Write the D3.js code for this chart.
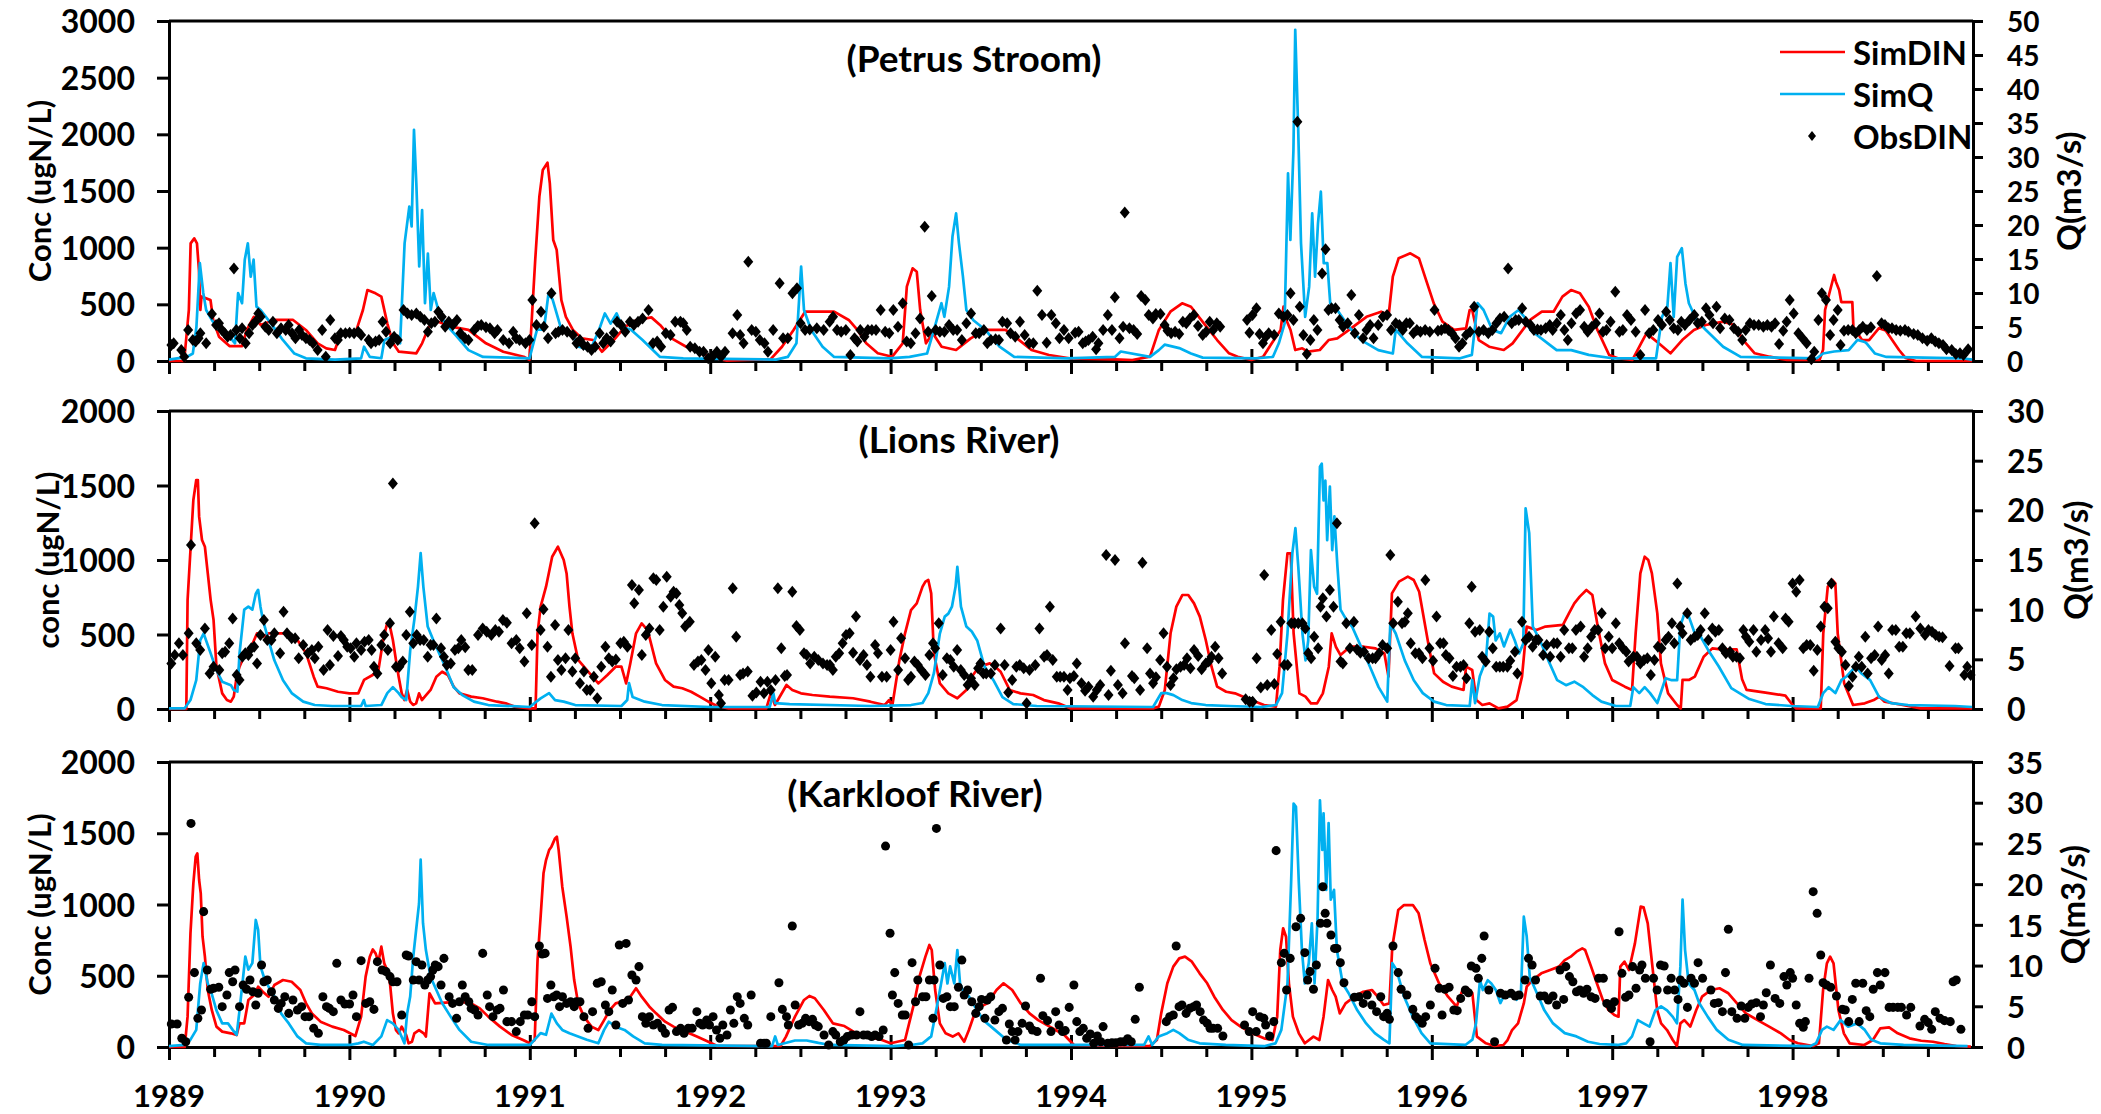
<!DOCTYPE html>
<html>
<head>
<meta charset="utf-8">
<title>Simulated and observed DIN and flow, 1989-1998</title>
<script src="https://cdn.jsdelivr.net/npm/d3@7"></script>
<style>
  html, body { margin: 0; padding: 0; background: #fff; }
  svg text { font-family: Lato, "Open Sans", sans-serif; font-weight: 700; fill: #000; }
</style>
</head>
<body>
<svg id="chart" width="2101" height="1114"></svg>
<script>
// ---- Time axis ----
const yearLabels = [1989, 1990, 1991, 1992, 1993, 1994, 1995, 1996, 1997, 1998];
const legendLabels = ["SimDIN", "SimQ", "ObsDIN"];

// ---- Petrus Stroom: [decimal year, value] ----
const petrusSimDIN = [[1989.0,0],[1989.084,0],[1989.11,450],[1989.12,1038],[1989.14,1082],[1989.155,1038],[1989.166,803],[1989.174,450],[1989.18,568],[1989.23,538],[1989.245,362],[1989.277,215],[1989.335,132],[1989.405,132],[1989.431,274],[1989.47,390],[1989.508,318],[1989.582,362],[1989.688,362],[1989.759,274],[1989.824,156],[1989.872,112],[1989.92,97],[1989.952,244],[1990.033,244],[1990.075,450],[1990.1,626],[1990.145,597],[1990.177,568],[1990.21,332],[1990.242,156],[1990.274,82],[1990.371,68],[1990.403,156],[1990.441,303],[1990.493,347],[1990.564,303],[1990.66,274],[1990.757,156],[1990.853,82],[1990.966,38],[1990.998,10],[1991.03,891],[1991.053,1450],[1991.072,1685],[1991.098,1750],[1991.111,1568],[1991.13,1068],[1991.149,980],[1991.175,538],[1991.2,390],[1991.239,274],[1991.288,200],[1991.352,185],[1991.4,82],[1991.465,185],[1991.529,303],[1991.593,362],[1991.674,385],[1991.722,318],[1991.786,200],[1991.867,126],[1991.947,68],[1992.028,24],[1992.092,3],[1992.205,9],[1992.334,15],[1992.398,126],[1992.462,274],[1992.526,435],[1992.687,435],[1992.768,362],[1992.816,274],[1992.865,156],[1992.929,68],[1993.009,38],[1993.067,156],[1993.09,656],[1993.122,818],[1993.145,788],[1993.164,450],[1993.196,156],[1993.234,244],[1993.283,126],[1993.363,97],[1993.444,200],[1993.524,274],[1993.637,274],[1993.701,200],[1993.781,97],[1993.878,53],[1993.991,24],[1994.243,15],[1994.34,9],[1994.438,38],[1994.487,274],[1994.551,435],[1994.616,509],[1994.665,479],[1994.729,347],[1994.81,185],[1994.876,68],[1994.924,38],[1995.0,9],[1995.065,38],[1995.113,156],[1995.162,274],[1995.178,479],[1995.194,362],[1995.217,274],[1995.243,97],[1995.282,112],[1995.314,82],[1995.379,97],[1995.428,185],[1995.476,200],[1995.541,274],[1995.638,390],[1995.719,435],[1995.761,406],[1995.784,744],[1995.816,906],[1995.881,950],[1995.929,906],[1995.962,744],[1996.011,509],[1996.059,347],[1996.124,274],[1996.19,288],[1996.21,450],[1996.224,450],[1996.26,185],[1996.318,126],[1996.399,97],[1996.448,156],[1996.545,362],[1996.61,435],[1996.675,435],[1996.724,568],[1996.772,626],[1996.821,597],[1996.87,479],[1996.918,274],[1996.983,53],[1997.031,24],[1997.112,9],[1997.16,156],[1997.19,244],[1997.258,156],[1997.323,68],[1997.388,185],[1997.453,274],[1997.518,318],[1997.615,347],[1997.677,318],[1997.726,185],[1997.79,68],[1997.872,38],[1997.969,9],[1998.149,9],[1998.169,100],[1998.18,450],[1998.23,759],[1998.24,700],[1998.258,626],[1998.27,520],[1998.331,520],[1998.337,300],[1998.385,185],[1998.424,185],[1998.479,290],[1998.516,270],[1998.59,97],[1998.627,26],[1998.684,0],[1998.995,0]];

const petrusSimQ = [[1989.0,0.2],[1989.1,0.6],[1989.132,1.1],[1989.152,5],[1989.171,14.4],[1989.19,10],[1989.206,7.5],[1989.238,6],[1989.277,4.6],[1989.335,3.6],[1989.366,2.6],[1989.383,10],[1989.405,8.5],[1989.42,14.9],[1989.437,17.3],[1989.453,12.4],[1989.469,14.9],[1989.485,8],[1989.508,7.5],[1989.566,5.5],[1989.631,3.1],[1989.695,1.1],[1989.759,0.4],[1989.92,0.2],[1990.065,0.4],[1990.081,2.1],[1990.113,0.6],[1990.177,0.4],[1990.194,3.1],[1990.242,3.6],[1990.281,2.6],[1990.306,17.3],[1990.332,22.7],[1990.345,19.8],[1990.358,34],[1990.371,26.1],[1990.387,13.9],[1990.403,22.2],[1990.419,8.5],[1990.435,15.8],[1990.451,7.5],[1990.467,10],[1990.493,7.5],[1990.531,5.5],[1990.596,3.6],[1990.66,1.6],[1990.741,0.6],[1990.998,0.4],[1991.04,4.6],[1991.078,4.6],[1991.104,10],[1991.127,9],[1991.175,4.6],[1991.239,3.6],[1991.272,2.1],[1991.336,1.6],[1991.384,4.6],[1991.416,7],[1991.448,5.5],[1991.481,7],[1991.513,5],[1991.561,4.6],[1991.625,3.1],[1991.722,0.6],[1991.851,0.4],[1992.365,0.2],[1992.43,0.6],[1992.478,2.6],[1992.504,13.9],[1992.52,7.5],[1992.559,4.6],[1992.623,2.1],[1992.687,0.6],[1992.993,0.4],[1993.105,0.6],[1993.202,1.1],[1993.25,5.5],[1993.282,8.5],[1993.298,6.5],[1993.324,10.9],[1993.343,18.3],[1993.363,21.7],[1993.379,17.3],[1993.401,12.4],[1993.42,7.5],[1993.459,6],[1993.524,4.6],[1993.604,2.1],[1993.685,0.6],[1993.974,0.4],[1994.243,0.6],[1994.276,1.4],[1994.438,0.6],[1994.487,1.6],[1994.519,2.4],[1994.6,1.9],[1994.665,1.1],[1994.73,0.5],[1995.022,0.4],[1995.119,0.6],[1995.152,2.6],[1995.184,5.5],[1995.203,27.6],[1995.216,17.8],[1995.233,31],[1995.243,48.7],[1995.259,34.5],[1995.275,17.3],[1995.298,6.5],[1995.32,10.9],[1995.337,21.7],[1995.353,12.4],[1995.369,20.2],[1995.385,24.9],[1995.401,14.4],[1995.421,14.4],[1995.437,8.5],[1995.476,7.5],[1995.541,5],[1995.606,3.1],[1995.703,1.6],[1995.784,1.1],[1995.8,4.6],[1995.865,2.6],[1995.946,0.6],[1996.157,0.4],[1996.222,0.9],[1996.254,8.5],[1996.287,7.5],[1996.335,4.6],[1996.384,4.1],[1996.432,6.5],[1996.481,7.5],[1996.513,6.5],[1996.545,4.6],[1996.643,2.6],[1996.692,1.6],[1996.773,1.6],[1996.87,0.9],[1997.0,0.4],[1997.243,0.4],[1997.276,6.5],[1997.306,8],[1997.323,14.4],[1997.341,6.5],[1997.36,15.3],[1997.386,16.6],[1997.406,11.4],[1997.425,8.5],[1997.468,6],[1997.518,4.6],[1997.615,2.1],[1997.712,0.6],[1998.134,0.4],[1998.169,1.1],[1998.23,1.4],[1998.311,1.6],[1998.36,3.1],[1998.4,2.8],[1998.41,2.6],[1998.457,1.1],[1998.52,0.6],[1998.94,0.4],[1998.995,0.2]];

const petrusObsDIN = [[1989.013,141],[1989.026,156],[1989.068,97],[1989.084,38],[1989.106,273],[1989.132,185],[1989.148,171],[1989.164,200],[1989.174,244],[1989.206,156],[1989.238,415],[1989.261,318],[1989.277,332],[1989.293,273],[1989.309,244],[1989.325,215],[1989.341,229],[1989.36,817],[1989.373,273],[1989.393,200],[1989.405,288],[1989.425,156],[1989.444,244],[1989.463,318],[1989.479,347],[1989.495,420],[1989.508,391],[1989.534,303],[1989.553,273],[1989.576,347],[1989.598,244],[1989.621,288],[1989.647,273],[1989.663,318],[1989.682,244],[1989.701,200],[1989.721,273],[1989.737,229],[1989.759,200],[1989.779,185],[1989.798,156],[1989.824,97],[1989.849,273],[1989.869,38],[1989.894,362],[1989.92,200],[1989.936,185],[1989.952,244],[1989.978,244],[1990.001,250],[1990.026,244],[1990.049,259],[1990.065,229],[1990.107,185],[1990.12,156],[1990.145,171],[1990.165,185],[1990.184,347],[1990.203,259],[1990.226,156],[1990.248,215],[1990.268,185],[1990.3,450],[1990.322,420],[1990.345,406],[1990.371,420],[1990.393,391],[1990.416,362],[1990.435,259],[1990.454,332],[1990.474,347],[1990.493,435],[1990.512,391],[1990.531,303],[1990.551,347],[1990.573,318],[1990.596,362],[1990.615,244],[1990.641,200],[1990.66,185],[1990.692,273],[1990.712,309],[1990.731,318],[1990.757,297],[1990.779,288],[1990.805,244],[1990.821,273],[1990.853,185],[1990.885,156],[1990.908,259],[1990.924,200],[1990.943,185],[1990.976,156],[1990.998,185],[1991.014,538],[1991.037,318],[1991.062,435],[1991.078,303],[1991.101,200],[1991.12,597],[1991.143,244],[1991.159,259],[1991.181,273],[1991.207,259],[1991.239,229],[1991.259,156],[1991.278,185],[1991.297,141],[1991.32,126],[1991.342,97],[1991.362,126],[1991.387,244],[1991.407,156],[1991.426,200],[1991.448,171],[1991.465,250],[1991.484,347],[1991.506,318],[1991.529,259],[1991.555,347],[1991.577,318],[1991.6,347],[1991.625,376],[1991.658,450],[1991.683,156],[1991.706,171],[1991.728,126],[1991.754,244],[1991.78,229],[1991.806,347],[1991.835,347],[1991.851,332],[1991.87,273],[1991.889,126],[1991.915,112],[1991.941,82],[1991.963,82],[1991.989,24],[1992.012,38],[1992.037,82],[1992.06,38],[1992.082,82],[1992.124,244],[1992.15,406],[1992.166,229],[1992.185,156],[1992.211,876],[1992.23,273],[1992.253,259],[1992.275,185],[1992.301,156],[1992.32,82],[1992.349,273],[1992.385,685],[1992.404,200],[1992.43,200],[1992.456,597],[1992.481,641],[1992.501,332],[1992.526,273],[1992.552,279],[1992.591,288],[1992.629,273],[1992.662,347],[1992.681,391],[1992.703,273],[1992.726,259],[1992.752,273],[1992.777,53],[1992.8,200],[1992.816,171],[1992.832,273],[1992.855,215],[1992.874,273],[1992.896,273],[1992.919,273],[1992.945,450],[1992.97,259],[1992.993,244],[1993.015,450],[1993.041,303],[1993.067,509],[1993.089,171],[1993.112,156],[1993.138,244],[1993.163,376],[1993.189,1185],[1993.208,259],[1993.228,573],[1993.25,273],[1993.273,259],[1993.298,259],[1993.324,318],[1993.347,273],[1993.369,273],[1993.395,185],[1993.42,332],[1993.446,420],[1993.472,244],[1993.491,244],[1993.517,273],[1993.536,156],[1993.556,185],[1993.582,191],[1993.601,185],[1993.62,347],[1993.646,332],[1993.665,244],[1993.691,215],[1993.717,347],[1993.743,229],[1993.768,156],[1993.791,156],[1993.813,620],[1993.839,406],[1993.865,162],[1993.891,406],[1993.916,332],[1993.936,200],[1993.961,273],[1993.987,200],[1994.023,250],[1994.042,259],[1994.065,156],[1994.081,171],[1994.097,185],[1994.12,215],[1994.139,103],[1994.152,156],[1994.178,273],[1994.204,406],[1994.227,273],[1994.243,562],[1994.269,200],[1994.289,303],[1994.298,1311],[1994.324,288],[1994.347,273],[1994.367,238],[1994.389,573],[1994.412,538],[1994.431,406],[1994.454,376],[1994.47,415],[1994.496,415],[1994.519,318],[1994.535,268],[1994.555,244],[1994.577,259],[1994.6,238],[1994.62,347],[1994.639,332],[1994.659,376],[1994.681,406],[1994.704,309],[1994.73,229],[1994.749,259],[1994.769,347],[1994.788,273],[1994.808,332],[1994.827,303],[1994.976,362],[1994.989,250],[1995.006,406],[1995.028,465],[1995.045,238],[1995.064,156],[1995.08,215],[1995.096,244],[1995.126,229],[1995.152,420],[1995.178,391],[1995.2,406],[1995.217,597],[1995.233,362],[1995.255,2111],[1995.268,479],[1995.288,229],[1995.307,62],[1995.327,185],[1995.346,362],[1995.366,273],[1995.392,773],[1995.411,985],[1995.427,450],[1995.444,465],[1995.466,465],[1995.489,362],[1995.508,303],[1995.534,332],[1995.554,582],[1995.573,244],[1995.596,406],[1995.619,200],[1995.638,273],[1995.658,318],[1995.677,200],[1995.703,318],[1995.729,391],[1995.752,406],[1995.774,273],[1995.8,332],[1995.82,318],[1995.839,273],[1995.859,332],[1995.878,332],[1995.898,244],[1995.917,273],[1995.937,259],[1995.963,273],[1995.989,259],[1996.015,450],[1996.034,268],[1996.053,273],[1996.073,288],[1996.092,273],[1996.112,244],[1996.131,200],[1996.151,126],[1996.17,156],[1996.19,229],[1996.212,259],[1996.235,479],[1996.261,259],[1996.287,273],[1996.313,244],[1996.336,273],[1996.358,332],[1996.378,376],[1996.401,391],[1996.423,817],[1996.443,332],[1996.465,362],[1996.482,362],[1996.501,465],[1996.521,347],[1996.547,318],[1996.566,273],[1996.586,279],[1996.605,273],[1996.631,288],[1996.654,318],[1996.67,273],[1996.693,332],[1996.715,406],[1996.735,273],[1996.754,185],[1996.774,332],[1996.8,420],[1996.822,450],[1996.845,303],[1996.864,259],[1996.887,303],[1996.91,332],[1996.929,420],[1996.949,259],[1996.968,273],[1996.991,347],[1997.017,612],[1997.04,259],[1997.059,273],[1997.082,406],[1997.104,362],[1997.13,259],[1997.156,53],[1997.182,450],[1997.205,244],[1997.228,273],[1997.254,362],[1997.276,318],[1997.299,435],[1997.319,362],[1997.341,288],[1997.364,273],[1997.383,347],[1997.403,318],[1997.429,362],[1997.455,406],[1997.474,332],[1997.497,347],[1997.52,465],[1997.539,406],[1997.559,332],[1997.578,479],[1997.598,288],[1997.624,376],[1997.65,362],[1997.675,288],[1997.698,259],[1997.721,185],[1997.74,273],[1997.763,332],[1997.786,318],[1997.812,318],[1997.838,303],[1997.86,318],[1997.883,303],[1997.903,332],[1997.925,150],[1997.948,268],[1997.967,347],[1997.984,538],[1998.006,420],[1998.032,244],[1998.055,200],[1998.078,156],[1998.104,15],[1998.12,82],[1998.143,362],[1998.162,597],[1998.185,538],[1998.208,229],[1998.227,362],[1998.25,450],[1998.266,141],[1998.285,268],[1998.308,273],[1998.331,273],[1998.35,244],[1998.37,273],[1998.389,303],[1998.412,273],[1998.434,297],[1998.467,750],[1998.493,332],[1998.512,318],[1998.532,288],[1998.551,288],[1998.574,273],[1998.597,268],[1998.623,273],[1998.642,259],[1998.671,238],[1998.694,229],[1998.72,200],[1998.746,179],[1998.769,200],[1998.791,171],[1998.811,156],[1998.834,141],[1998.853,103],[1998.882,97],[1998.905,62],[1998.928,68],[1998.947,53],[1998.973,103]];

// ---- Lions River ----
const lionsSimDIN = [[1989.0,0],[1989.096,0],[1989.103,731],[1989.119,1067],[1989.135,1403],[1989.151,1537],[1989.16,1537],[1989.167,1291],[1989.183,1134],[1989.199,1089],[1989.215,910],[1989.231,731],[1989.247,597],[1989.263,284],[1989.295,105],[1989.321,60],[1989.343,49],[1989.359,83],[1989.375,217],[1989.391,284],[1989.423,374],[1989.456,418],[1989.488,508],[1989.52,485],[1989.552,508],[1989.664,508],[1989.712,463],[1989.76,374],[1989.802,217],[1989.824,150],[1989.873,139],[1989.937,116],[1990.0,105],[1990.049,105],[1990.081,195],[1990.129,228],[1990.161,262],[1990.187,463],[1990.209,575],[1990.225,553],[1990.241,463],[1990.258,329],[1990.273,217],[1990.29,105],[1990.305,60],[1990.32,128],[1990.337,49],[1990.353,27],[1990.37,38],[1990.386,105],[1990.402,60],[1990.418,83],[1990.45,128],[1990.482,217],[1990.514,250],[1990.546,228],[1990.578,150],[1990.61,105],[1990.675,83],[1990.739,72],[1990.819,49],[1990.867,38],[1990.915,16],[1991.0,4],[1991.032,4],[1991.043,508],[1991.06,687],[1991.09,821],[1991.124,1022],[1991.156,1089],[1991.188,1000],[1991.204,910],[1991.22,687],[1991.236,508],[1991.268,329],[1991.3,284],[1991.332,239],[1991.38,172],[1991.43,228],[1991.476,284],[1991.508,284],[1991.534,172],[1991.557,306],[1991.589,508],[1991.62,575],[1991.653,530],[1991.7,306],[1991.749,195],[1991.797,150],[1991.845,139],[1991.894,116],[1991.942,83],[1991.99,49],[1992.038,20],[1992.102,4],[1992.311,4],[1992.336,105],[1992.359,27],[1992.423,161],[1992.455,128],[1992.503,105],[1992.567,94],[1992.663,83],[1992.792,72],[1992.888,49],[1992.968,27],[1992.991,60],[1993.01,27],[1993.049,329],[1993.08,508],[1993.113,664],[1993.145,709],[1993.177,821],[1993.193,855],[1993.209,866],[1993.225,776],[1993.24,374],[1993.273,172],[1993.32,105],[1993.37,72],[1993.42,128],[1993.45,217],[1993.49,284],[1993.55,306],[1993.58,284],[1993.61,250],[1993.66,128],[1993.72,105],[1993.79,94],[1993.85,60],[1993.93,38],[1994.0,4],[1994.455,4],[1994.487,16],[1994.52,128],[1994.552,508],[1994.584,687],[1994.617,765],[1994.65,765],[1994.682,709],[1994.714,620],[1994.747,463],[1994.779,284],[1994.81,150],[1994.86,116],[1994.909,105],[1994.974,72],[1995.023,49],[1995.07,27],[1995.136,16],[1995.156,284],[1995.175,731],[1995.2,1045],[1995.218,1045],[1995.234,508],[1995.266,105],[1995.3,83],[1995.33,38],[1995.364,38],[1995.396,105],[1995.429,284],[1995.445,508],[1995.468,418],[1995.494,362],[1995.526,396],[1995.558,418],[1995.624,418],[1995.688,407],[1995.737,374],[1995.76,217],[1995.779,776],[1995.818,855],[1995.867,888],[1995.9,866],[1995.93,787],[1995.964,553],[1995.987,396],[1996.013,239],[1996.062,183],[1996.11,150],[1996.176,128],[1996.19,284],[1996.224,262],[1996.247,60],[1996.28,27],[1996.32,38],[1996.37,4],[1996.42,16],[1996.47,60],[1996.5,217],[1996.526,553],[1996.58,530],[1996.63,553],[1996.727,564],[1996.76,642],[1996.79,709],[1996.82,754],[1996.857,799],[1996.89,765],[1996.92,553],[1996.96,306],[1997.0,195],[1997.07,150],[1997.11,128],[1997.13,508],[1997.156,910],[1997.18,1022],[1997.2,1000],[1997.22,910],[1997.25,642],[1997.27,306],[1997.31,105],[1997.36,27],[1997.38,4],[1997.39,195],[1997.425,195],[1997.458,217],[1997.507,351],[1997.555,407],[1997.604,400],[1997.69,400],[1997.72,200],[1997.745,128],[1997.85,110],[1997.96,90],[1998.0,27],[1998.02,4],[1998.156,4],[1998.17,508],[1998.195,821],[1998.22,866],[1998.237,843],[1998.25,508],[1998.286,172],[1998.335,27],[1998.4,38],[1998.45,60],[1998.48,83],[1998.51,49],[1998.61,27],[1998.71,4],[1998.995,4]];

const lionsSimQ = [[1989.0,0.07],[1989.087,0.07],[1989.119,0.9],[1989.151,2.9],[1989.173,6.9],[1989.192,7.6],[1989.231,5.6],[1989.263,3.9],[1989.295,2.75],[1989.343,2.4],[1989.359,1.9],[1989.379,1.75],[1989.391,5.6],[1989.417,10],[1989.44,10.3],[1989.462,10],[1989.481,11.6],[1989.494,12],[1989.507,10.3],[1989.52,9],[1989.552,6.9],[1989.584,4.9],[1989.632,2.9],[1989.68,1.6],[1989.744,0.74],[1989.808,0.4],[1989.905,0.3],[1990.065,0.3],[1990.08,0.9],[1990.09,0.3],[1990.177,0.4],[1990.21,1.6],[1990.241,2.2],[1990.273,1.6],[1990.29,1.2],[1990.315,0.9],[1990.337,5.9],[1990.36,9],[1990.38,12.3],[1990.395,15.7],[1990.41,12.3],[1990.434,8.3],[1990.466,6.9],[1990.498,5.6],[1990.53,4.3],[1990.578,2.2],[1990.626,1.4],[1990.69,0.74],[1990.77,0.4],[1991.0,0.2],[1991.027,0.6],[1991.06,1.07],[1991.107,1.6],[1991.14,0.9],[1991.188,0.74],[1991.252,0.4],[1991.508,0.3],[1991.54,0.9],[1991.55,2.6],[1991.57,1.2],[1991.637,0.74],[1991.733,0.4],[1992.0,0.2],[1992.33,0.2],[1992.35,1.6],[1992.36,0.6],[1992.44,0.5],[1992.89,0.3],[1993.113,0.4],[1993.177,0.6],[1993.209,1.6],[1993.24,3.6],[1993.273,7.6],[1993.3,9.3],[1993.32,9.6],[1993.34,10.3],[1993.36,12.3],[1993.37,14.3],[1993.39,10.3],[1993.42,8.3],[1993.45,7.8],[1993.48,6.9],[1993.52,4.3],[1993.57,2.9],[1993.62,1.2],[1993.68,0.5],[1993.81,0.3],[1994.455,0.2],[1994.5,1.6],[1994.53,1.6],[1994.568,1.4],[1994.617,0.9],[1994.666,0.6],[1994.747,0.4],[1994.877,0.3],[1995.055,0.2],[1995.136,0.4],[1995.17,1.6],[1995.2,7.6],[1995.227,15.7],[1995.244,18.2],[1995.26,14.3],[1995.283,7.6],[1995.3,4.9],[1995.315,6.9],[1995.33,16],[1995.348,12.3],[1995.364,11.6],[1995.38,24.4],[1995.39,24.7],[1995.4,21],[1995.41,23],[1995.42,17],[1995.435,22.4],[1995.448,16],[1995.46,19.4],[1995.477,14.3],[1995.494,10],[1995.526,9],[1995.558,8.3],[1995.607,6.3],[1995.656,4.3],[1995.705,2.2],[1995.753,0.74],[1995.77,8.6],[1995.8,7.6],[1995.85,4.9],[1995.9,2.9],[1995.95,1.6],[1996.013,0.74],[1996.08,0.4],[1996.21,0.3],[1996.224,2.9],[1996.24,0.6],[1996.266,3.3],[1996.3,4.9],[1996.32,9.6],[1996.34,9.3],[1996.354,6.9],[1996.377,7.6],[1996.4,6.3],[1996.435,8],[1996.46,6.9],[1996.484,5.6],[1996.507,6.6],[1996.52,20.2],[1996.54,17.7],[1996.56,8.3],[1996.6,6.9],[1996.646,4.9],[1996.695,2.9],[1996.744,2.4],[1996.79,2.75],[1996.84,2.2],[1996.89,1.4],[1996.94,0.74],[1997.02,0.3],[1997.1,0.3],[1997.117,2.2],[1997.15,1.6],[1997.18,2.2],[1997.21,1.6],[1997.25,0.6],[1997.296,3.1],[1997.33,2.9],[1997.36,2.9],[1997.377,8.3],[1997.4,9.6],[1997.425,9.3],[1997.458,7.6],[1997.49,7.3],[1997.53,6],[1997.59,4.3],[1997.66,2.1],[1997.76,1.0],[1997.85,0.5],[1997.994,0.3],[1998.14,0.2],[1998.17,1.6],[1998.2,2.2],[1998.237,1.6],[1998.27,2.9],[1998.3,3.3],[1998.35,4.3],[1998.38,3.6],[1998.43,2.9],[1998.48,1.2],[1998.545,0.6],[1998.64,0.4],[1998.9,0.3],[1998.995,0.2]];

const lionsObsDIN = [[1989.013,306],[1989.032,362],[1989.055,441],[1989.077,362],[1989.109,508],[1989.122,1101],[1989.151,441],[1989.173,396],[1989.199,541],[1989.225,239],[1989.247,284],[1989.279,262],[1989.295,374],[1989.311,385],[1989.334,441],[1989.353,608],[1989.375,228],[1989.391,195],[1989.407,351],[1989.423,374],[1989.44,362],[1989.456,407],[1989.472,418],[1989.488,306],[1989.507,497],[1989.526,597],[1989.545,463],[1989.568,463],[1989.584,508],[1989.616,374],[1989.635,653],[1989.654,508],[1989.68,474],[1989.699,474],[1989.719,340],[1989.744,430],[1989.77,374],[1989.792,396],[1989.808,340],[1989.828,418],[1989.857,262],[1989.879,530],[1989.892,295],[1989.911,490],[1989.937,356],[1989.953,490],[1989.969,463],[1989.988,418],[1990.007,407],[1990.027,351],[1990.039,441],[1990.065,396],[1990.084,452],[1990.107,463],[1990.123,396],[1990.136,284],[1990.155,239],[1990.177,430],[1990.193,497],[1990.213,396],[1990.225,575],[1990.241,1514],[1990.258,284],[1990.277,284],[1990.296,318],[1990.315,497],[1990.335,653],[1990.354,441],[1990.373,497],[1990.392,463],[1990.412,463],[1990.434,351],[1990.45,430],[1990.466,430],[1990.482,608],[1990.508,407],[1990.524,351],[1990.54,295],[1990.562,306],[1990.585,396],[1990.604,407],[1990.62,463],[1990.642,414],[1990.659,262],[1990.681,262],[1990.713,497],[1990.739,541],[1990.761,519],[1990.787,497],[1990.809,530],[1990.829,519],[1990.851,597],[1990.873,579],[1990.899,441],[1990.925,463],[1990.944,407],[1990.97,318],[1990.983,642],[1991.011,430],[1991.027,1246],[1991.06,530],[1991.076,669],[1991.098,418],[1991.117,217],[1991.14,564],[1991.156,329],[1991.175,262],[1991.198,340],[1991.214,530],[1991.236,251],[1991.252,340],[1991.278,172],[1991.3,251],[1991.316,128],[1991.335,128],[1991.355,217],[1991.374,72],[1991.396,284],[1991.419,418],[1991.438,340],[1991.457,318],[1991.477,333],[1991.502,441],[1991.521,452],[1991.541,418],[1991.566,832],[1991.579,709],[1991.605,799],[1991.621,362],[1991.643,497],[1991.663,541],[1991.685,877],[1991.701,866],[1991.72,530],[1991.74,687],[1991.759,888],[1991.781,754],[1991.797,787],[1991.813,776],[1991.829,698],[1991.845,642],[1991.861,553],[1991.887,586],[1991.91,295],[1991.932,318],[1991.951,329],[1991.974,262],[1991.99,396],[1992.006,172],[1992.028,351],[1992.048,94],[1992.06,38],[1992.08,195],[1992.102,195],[1992.125,810],[1992.144,485],[1992.166,228],[1992.182,239],[1992.208,251],[1992.234,89],[1992.256,110],[1992.279,183],[1992.298,105],[1992.317,183],[1992.336,128],[1992.362,195],[1992.375,810],[1992.394,407],[1992.413,221],[1992.426,228],[1992.455,787],[1992.478,557],[1992.497,530],[1992.52,374],[1992.535,362],[1992.554,306],[1992.577,351],[1992.599,329],[1992.625,306],[1992.648,295],[1992.664,295],[1992.68,262],[1992.696,351],[1992.715,374],[1992.734,441],[1992.753,497],[1992.773,508],[1992.792,378],[1992.808,620],[1992.83,329],[1992.85,362],[1992.869,295],[1992.888,217],[1992.914,430],[1992.93,374],[1992.952,217],[1992.978,217],[1993.0,396],[1993.016,586],[1993.042,262],[1993.058,474],[1993.08,340],[1993.097,195],[1993.113,217],[1993.132,318],[1993.151,295],[1993.17,262],[1993.193,228],[1993.215,362],[1993.235,441],[1993.247,407],[1993.267,575],[1993.289,228],[1993.312,340],[1993.331,329],[1993.35,284],[1993.369,396],[1993.389,262],[1993.408,228],[1993.427,161],[1993.446,206],[1993.466,161],[1993.485,273],[1993.498,306],[1993.514,239],[1993.53,239],[1993.556,239],[1993.578,295],[1993.61,541],[1993.632,295],[1993.652,110],[1993.674,195],[1993.697,284],[1993.716,295],[1993.738,273],[1993.754,38],[1993.77,262],[1993.802,295],[1993.825,541],[1993.851,351],[1993.867,362],[1993.883,687],[1993.899,329],[1993.921,217],[1993.94,217],[1993.961,217],[1993.981,128],[1993.994,206],[1994.016,221],[1994.032,306],[1994.058,172],[1994.078,123],[1994.097,150],[1994.123,83],[1994.143,128],[1994.162,161],[1994.195,1033],[1994.208,94],[1994.221,257],[1994.244,1000],[1994.26,161],[1994.286,105],[1994.299,441],[1994.338,221],[1994.351,206],[1994.383,128],[1994.396,982],[1994.422,407],[1994.438,239],[1994.455,172],[1994.471,213],[1994.494,329],[1994.513,508],[1994.532,284],[1994.552,161],[1994.568,206],[1994.584,266],[1994.607,284],[1994.627,295],[1994.643,340],[1994.662,273],[1994.682,396],[1994.705,356],[1994.724,266],[1994.747,306],[1994.763,318],[1994.779,351],[1994.799,418],[1994.818,340],[1994.838,239],[1994.968,65],[1994.99,49],[1995.007,49],[1995.029,340],[1995.052,145],[1995.071,899],[1995.088,161],[1995.11,530],[1995.127,168],[1995.143,369],[1995.162,586],[1995.182,295],[1995.201,295],[1995.221,575],[1995.24,575],[1995.26,575],[1995.283,575],[1995.299,541],[1995.315,374],[1995.331,340],[1995.348,485],[1995.37,407],[1995.383,687],[1995.396,743],[1995.416,620],[1995.435,799],[1995.455,687],[1995.474,1246],[1995.494,318],[1995.507,306],[1995.526,575],[1995.546,407],[1995.568,586],[1995.585,400],[1995.604,378],[1995.624,385],[1995.65,340],[1995.672,340],[1995.688,340],[1995.708,374],[1995.727,430],[1995.753,407],[1995.77,1033],[1995.786,575],[1995.812,720],[1995.835,575],[1995.851,586],[1995.867,642],[1995.883,441],[1995.909,374],[1995.929,374],[1995.948,340],[1995.964,866],[1995.987,407],[1996.007,324],[1996.026,620],[1996.046,441],[1996.065,441],[1996.078,362],[1996.098,340],[1996.117,221],[1996.137,284],[1996.159,284],[1996.176,295],[1996.192,206],[1996.208,575],[1996.221,821],[1996.24,519],[1996.266,530],[1996.279,351],[1996.299,318],[1996.318,519],[1996.338,407],[1996.357,284],[1996.377,284],[1996.396,284],[1996.419,284],[1996.435,324],[1996.461,385],[1996.474,239],[1996.5,586],[1996.52,463],[1996.539,485],[1996.559,418],[1996.578,463],[1996.591,463],[1996.617,362],[1996.637,430],[1996.656,351],[1996.676,441],[1996.695,441],[1996.714,351],[1996.734,530],[1996.76,407],[1996.779,407],[1996.799,530],[1996.825,553],[1996.844,351],[1996.864,407],[1996.883,485],[1996.903,530],[1996.922,530],[1996.942,642],[1996.961,407],[1996.981,485],[1997.0,407],[1997.02,575],[1997.039,441],[1997.059,407],[1997.078,385],[1997.091,318],[1997.117,351],[1997.137,351],[1997.156,306],[1997.176,329],[1997.195,340],[1997.214,228],[1997.234,329],[1997.253,418],[1997.273,407],[1997.296,463],[1997.312,485],[1997.331,575],[1997.344,441],[1997.361,843],[1997.377,553],[1997.39,508],[1997.416,642],[1997.435,463],[1997.458,485],[1997.474,497],[1997.49,530],[1997.513,642],[1997.533,463],[1997.555,541],[1997.572,519],[1997.591,530],[1997.611,407],[1997.63,374],[1997.653,385],[1997.669,351],[1997.689,351],[1997.708,340],[1997.727,530],[1997.741,485],[1997.76,452],[1997.783,530],[1997.799,385],[1997.825,463],[1997.848,530],[1997.864,474],[1997.88,385],[1997.896,620],[1997.922,441],[1997.945,407],[1997.961,608],[1997.978,586],[1998.0,843],[1998.02,787],[1998.039,866],[1998.059,407],[1998.078,430],[1998.098,430],[1998.117,257],[1998.137,396],[1998.156,553],[1998.176,687],[1998.195,676],[1998.215,843],[1998.237,452],[1998.254,407],[1998.273,385],[1998.293,295],[1998.312,154],[1998.332,217],[1998.351,284],[1998.367,351],[1998.383,284],[1998.403,485],[1998.416,239],[1998.435,340],[1998.455,362],[1998.474,553],[1998.494,329],[1998.513,362],[1998.533,239],[1998.552,530],[1998.572,530],[1998.591,418],[1998.611,418],[1998.63,508],[1998.65,508],[1998.682,620],[1998.708,541],[1998.734,497],[1998.753,530],[1998.773,519],[1998.793,497],[1998.812,485],[1998.831,481],[1998.87,289],[1998.903,407],[1998.919,407],[1998.952,228],[1998.968,284],[1998.987,228]];

// ---- Karkloof River ----
const karkloofSimDIN = [[1989.0,0],[1989.087,0],[1989.103,213],[1989.119,798],[1989.135,1148],[1989.148,1336],[1989.157,1359],[1989.167,1172],[1989.176,1078],[1989.186,774],[1989.199,634],[1989.215,400],[1989.237,260],[1989.263,143],[1989.295,108],[1989.343,96],[1989.375,84],[1989.391,166],[1989.417,166],[1989.44,330],[1989.472,365],[1989.494,423],[1989.52,388],[1989.552,353],[1989.584,435],[1989.632,470],[1989.68,458],[1989.728,400],[1989.76,306],[1989.792,236],[1989.84,178],[1989.905,143],[1989.969,119],[1990.033,77],[1990.065,213],[1990.09,494],[1990.113,634],[1990.13,685],[1990.145,657],[1990.161,599],[1990.177,704],[1990.193,587],[1990.209,540],[1990.225,447],[1990.241,236],[1990.258,119],[1990.273,96],[1990.29,143],[1990.315,84],[1990.328,26],[1990.347,37],[1990.36,96],[1990.386,119],[1990.412,96],[1990.424,73],[1990.444,377],[1990.475,306],[1990.61,318],[1990.675,306],[1990.723,271],[1990.77,213],[1990.835,143],[1990.899,84],[1990.963,49],[1991.0,26],[1991.027,49],[1991.043,610],[1991.06,915],[1991.076,1219],[1991.09,1312],[1991.107,1382],[1991.12,1406],[1991.14,1464],[1991.15,1476],[1991.16,1382],[1991.18,1125],[1991.204,915],[1991.226,704],[1991.246,470],[1991.268,306],[1991.3,213],[1991.342,143],[1991.38,119],[1991.412,189],[1991.444,260],[1991.476,306],[1991.508,318],[1991.557,353],[1991.589,412],[1991.62,353],[1991.663,283],[1991.7,236],[1991.75,178],[1991.797,143],[1991.861,108],[1991.926,73],[1991.99,37],[1992.038,7],[1992.39,7],[1992.42,73],[1992.47,213],[1992.52,330],[1992.55,358],[1992.58,342],[1992.63,260],[1992.68,166],[1992.744,147],[1992.81,96],[1992.872,73],[1992.952,49],[1993.0,26],[1993.08,49],[1993.13,306],[1993.16,494],[1993.193,634],[1993.215,716],[1993.228,681],[1993.247,400],[1993.273,166],[1993.305,96],[1993.344,73],[1993.376,96],[1993.408,37],[1993.434,119],[1993.466,236],[1993.498,283],[1993.536,306],[1993.587,400],[1993.626,447],[1993.674,400],[1993.722,306],[1993.77,236],[1993.818,189],[1993.867,154],[1993.915,119],[1993.963,84],[1994.016,14],[1994.243,7],[1994.437,7],[1994.476,49],[1994.5,236],[1994.534,447],[1994.567,564],[1994.6,622],[1994.632,634],[1994.67,599],[1994.713,517],[1994.755,447],[1994.794,353],[1994.842,260],[1994.89,189],[1994.94,143],[1995.004,96],[1995.07,61],[1995.117,49],[1995.143,213],[1995.16,681],[1995.176,833],[1995.192,774],[1995.208,447],[1995.23,213],[1995.263,96],[1995.296,26],[1995.344,73],[1995.377,49],[1995.4,213],[1995.425,470],[1995.448,400],[1995.467,353],[1995.49,236],[1995.522,306],[1995.57,353],[1995.62,388],[1995.668,400],[1995.7,353],[1995.733,295],[1995.765,306],[1995.781,704],[1995.814,961],[1995.846,996],[1995.895,996],[1995.927,938],[1995.96,751],[1995.992,587],[1996.04,447],[1996.09,353],[1996.138,283],[1996.17,400],[1996.2,412],[1996.225,377],[1996.25,73],[1996.3,26],[1996.348,7],[1996.397,14],[1996.42,49],[1996.445,119],[1996.478,166],[1996.51,306],[1996.526,423],[1996.559,470],[1996.607,517],[1996.656,540],[1996.705,564],[1996.737,610],[1996.77,634],[1996.802,669],[1996.834,692],[1996.85,681],[1996.883,564],[1996.915,447],[1996.948,330],[1996.98,260],[1997.012,225],[1997.035,213],[1997.045,564],[1997.068,599],[1997.093,540],[1997.126,727],[1997.158,985],[1997.174,980],[1997.197,868],[1997.223,564],[1997.249,260],[1997.271,166],[1997.304,119],[1997.336,49],[1997.359,7],[1997.378,166],[1997.4,189],[1997.433,143],[1997.466,260],[1997.498,353],[1997.547,400],[1997.595,412],[1997.644,377],[1997.692,306],[1997.741,236],[1997.806,189],[1997.87,143],[1997.935,96],[1997.984,49],[1998.03,26],[1998.113,7],[1998.146,26],[1998.169,400],[1998.19,587],[1998.208,634],[1998.227,587],[1998.254,260],[1998.284,96],[1998.316,26],[1998.397,14],[1998.445,49],[1998.486,131],[1998.535,138],[1998.583,96],[1998.648,61],[1998.713,44],[1998.778,37],[1998.842,21],[1998.907,7],[1998.988,2]];

const karkloofSimQ = [[1989.0,0.1],[1989.087,0.25],[1989.119,0.9],[1989.151,2.1],[1989.173,7.8],[1989.192,10.3],[1989.215,7.8],[1989.231,7],[1989.263,4.5],[1989.295,2.9],[1989.327,2.9],[1989.353,2.1],[1989.375,1.5],[1989.391,4.5],[1989.423,11.1],[1989.44,9.5],[1989.462,10.3],[1989.481,15.6],[1989.494,14.4],[1989.507,9.9],[1989.526,8.6],[1989.552,7.4],[1989.584,6.2],[1989.622,4.1],[1989.664,2.9],[1989.712,1.3],[1989.76,0.45],[1989.84,0.25],[1990.0,0.25],[1990.05,0.45],[1990.08,0.65],[1990.13,0.25],[1990.177,1.3],[1990.209,3.3],[1990.241,2.9],[1990.273,2.1],[1990.305,0.45],[1990.32,4.1],[1990.337,6.2],[1990.354,11.1],[1990.37,14.4],[1990.386,17.6],[1990.395,23],[1990.408,15.2],[1990.424,11.9],[1990.45,8.6],[1990.482,7],[1990.514,5.4],[1990.562,3.7],[1990.61,2.1],[1990.675,0.65],[1990.77,0.25],[1991.0,0.25],[1991.027,0.9],[1991.06,1.7],[1991.09,1.5],[1991.12,4.1],[1991.15,2.9],[1991.18,2.1],[1991.22,1.7],[1991.268,1.3],[1991.316,0.9],[1991.38,0.45],[1991.412,2.1],[1991.438,3.1],[1991.476,2.5],[1991.525,2.1],[1991.573,1.3],[1991.637,0.45],[1991.733,0.25],[1992.343,0.1],[1992.36,1.3],[1992.375,0.25],[1992.47,0.8],[1992.535,0.8],[1992.6,0.5],[1992.664,0.25],[1993.016,0.1],[1993.113,0.25],[1993.177,0.45],[1993.225,1.3],[1993.257,5],[1993.28,7.8],[1993.3,10.3],[1993.315,7.8],[1993.33,9.9],[1993.353,7.8],[1993.37,11.9],[1993.385,7.8],[1993.4,7],[1993.434,6.2],[1993.466,5],[1993.514,3.3],[1993.578,2.1],[1993.642,0.9],[1993.722,0.25],[1994.405,0.25],[1994.43,1.3],[1994.45,0.25],[1994.486,1.3],[1994.534,1.7],[1994.567,2.1],[1994.6,1.7],[1994.648,0.9],[1994.713,0.45],[1994.858,0.25],[1995.07,0.1],[1995.134,0.45],[1995.166,2.1],[1995.2,7.8],[1995.22,20.1],[1995.234,29.9],[1995.247,29.5],[1995.263,20.1],[1995.28,11.9],[1995.296,7.8],[1995.318,10.3],[1995.335,15.2],[1995.35,7.8],[1995.367,16],[1995.38,30.3],[1995.393,24.2],[1995.4,28.7],[1995.415,19.3],[1995.428,27.5],[1995.44,18.1],[1995.458,19.3],[1995.474,11.9],[1995.506,7.8],[1995.539,6.6],[1995.587,4.5],[1995.636,2.9],[1995.684,1.7],[1995.733,0.9],[1995.765,0.45],[1995.781,10.3],[1995.804,9.5],[1995.846,6.2],[1995.895,3.7],[1995.943,1.7],[1995.992,0.45],[1996.186,0.25],[1996.225,0.9],[1996.245,2.9],[1996.267,8.2],[1996.283,7],[1996.31,8.2],[1996.33,7.8],[1996.355,7],[1996.38,5.4],[1996.407,6.6],[1996.43,6.2],[1996.452,6.6],[1996.47,5.8],[1996.494,6.6],[1996.51,16],[1996.526,13.6],[1996.543,8.6],[1996.575,7],[1996.624,4.5],[1996.672,2.9],[1996.737,1.7],[1996.802,1.3],[1996.866,0.65],[1996.93,0.37],[1997.03,0.25],[1997.077,0.45],[1997.11,1.3],[1997.142,3.3],[1997.174,2.9],[1997.207,2.5],[1997.239,4.5],[1997.271,5],[1997.304,4.5],[1997.336,3.7],[1997.359,2.9],[1997.378,9.9],[1997.39,18.1],[1997.404,11.9],[1997.424,7.8],[1997.456,7],[1997.482,5.4],[1997.53,3.7],[1997.58,2.1],[1997.644,0.9],[1997.725,0.25],[1998.097,0.1],[1998.13,0.45],[1998.163,2.1],[1998.19,2.5],[1998.227,2.1],[1998.266,3.3],[1998.308,2.5],[1998.357,2.9],[1998.4,2.1],[1998.437,0.9],[1998.486,0.45],[1998.615,0.25],[1998.97,0.1]];

const karkloofObsDIN = [[1989.013,161],[1989.045,161],[1989.071,61],[1989.093,37],[1989.109,349],[1989.122,1569],[1989.141,522],[1989.16,201],[1989.18,260],[1989.192,950],[1989.212,540],[1989.231,405],[1989.247,412],[1989.276,419],[1989.295,283],[1989.321,365],[1989.334,522],[1989.353,458],[1989.366,540],[1989.391,283],[1989.411,435],[1989.43,405],[1989.449,470],[1989.465,388],[1989.481,295],[1989.494,377],[1989.513,575],[1989.526,458],[1989.545,470],[1989.568,388],[1989.584,330],[1989.606,271],[1989.622,306],[1989.642,353],[1989.664,236],[1989.687,330],[1989.712,260],[1989.735,283],[1989.754,213],[1989.776,213],[1989.802,131],[1989.828,96],[1989.853,353],[1989.873,283],[1989.889,271],[1989.911,248],[1989.93,587],[1989.953,330],[1989.975,302],[1990.001,302],[1990.02,365],[1990.039,213],[1990.065,606],[1990.091,306],[1990.113,318],[1990.136,264],[1990.155,599],[1990.181,540],[1990.203,529],[1990.225,494],[1990.241,458],[1990.264,458],[1990.29,225],[1990.315,646],[1990.328,639],[1990.354,470],[1990.37,599],[1990.386,470],[1990.402,575],[1990.418,435],[1990.434,470],[1990.45,494],[1990.463,540],[1990.476,575],[1990.492,564],[1990.508,435],[1990.524,622],[1990.553,353],[1990.572,306],[1990.594,201],[1990.61,318],[1990.626,435],[1990.642,353],[1990.662,318],[1990.675,271],[1990.694,260],[1990.713,225],[1990.739,657],[1990.764,365],[1990.777,283],[1990.796,213],[1990.819,260],[1990.835,271],[1990.854,400],[1990.873,178],[1990.899,178],[1990.925,108],[1990.947,178],[1990.97,225],[1990.989,225],[1991.011,318],[1991.027,213],[1991.053,709],[1991.069,653],[1991.085,657],[1991.098,341],[1991.117,435],[1991.133,353],[1991.149,365],[1991.165,283],[1991.181,353],[1991.204,306],[1991.226,318],[1991.246,283],[1991.258,318],[1991.278,318],[1991.3,213],[1991.323,131],[1991.348,248],[1991.374,447],[1991.396,458],[1991.419,295],[1991.438,248],[1991.457,400],[1991.477,154],[1991.496,716],[1991.515,306],[1991.534,727],[1991.547,330],[1991.566,505],[1991.589,470],[1991.605,564],[1991.624,213],[1991.643,166],[1991.663,213],[1991.685,154],[1991.708,166],[1991.733,131],[1991.752,96],[1991.772,260],[1991.791,278],[1991.813,108],[1991.836,131],[1991.855,96],[1991.878,131],[1991.9,131],[1991.926,248],[1991.942,166],[1991.958,154],[1991.98,189],[1991.996,154],[1992.016,213],[1992.035,119],[1992.054,61],[1992.07,154],[1992.093,84],[1992.112,260],[1992.131,166],[1992.15,353],[1992.166,306],[1992.189,201],[1992.208,154],[1992.227,365],[1992.279,26],[1992.298,26],[1992.311,26],[1992.336,213],[1992.381,451],[1992.4,264],[1992.423,213],[1992.433,154],[1992.455,849],[1992.471,295],[1992.49,154],[1992.51,166],[1992.529,201],[1992.548,178],[1992.567,194],[1992.583,154],[1992.599,143],[1992.631,84],[1992.657,14],[1992.68,108],[1992.696,84],[1992.721,37],[1992.741,49],[1992.76,73],[1992.785,84],[1992.811,84],[1992.83,248],[1992.85,84],[1992.872,84],[1992.895,73],[1992.914,84],[1992.936,73],[1992.959,119],[1992.972,1410],[1992.997,798],[1993.01,365],[1993.023,522],[1993.042,306],[1993.065,225],[1993.081,225],[1993.1,14],[1993.119,592],[1993.138,318],[1993.151,470],[1993.177,353],[1993.196,353],[1993.215,470],[1993.235,201],[1993.241,470],[1993.254,1534],[1993.273,575],[1993.292,341],[1993.312,353],[1993.331,283],[1993.353,283],[1993.376,419],[1993.395,610],[1993.408,365],[1993.427,400],[1993.45,318],[1993.472,236],[1993.491,283],[1993.504,334],[1993.523,201],[1993.536,330],[1993.555,353],[1993.578,189],[1993.6,248],[1993.62,271],[1993.642,49],[1993.658,161],[1993.674,108],[1993.69,49],[1993.706,108],[1993.729,166],[1993.748,288],[1993.77,147],[1993.786,119],[1993.812,108],[1993.831,482],[1993.844,220],[1993.87,185],[1993.889,108],[1993.915,248],[1993.934,154],[1993.953,108],[1993.968,115],[1993.99,278],[1994.016,435],[1994.032,178],[1994.049,108],[1994.068,131],[1994.087,61],[1994.107,91],[1994.126,26],[1994.146,77],[1994.165,37],[1994.178,143],[1994.204,26],[1994.227,30],[1994.249,30],[1994.275,37],[1994.295,37],[1994.314,58],[1994.334,37],[1994.356,194],[1994.379,419],[1994.528,178],[1994.547,213],[1994.567,225],[1994.583,709],[1994.599,283],[1994.615,295],[1994.638,236],[1994.658,271],[1994.68,283],[1994.696,295],[1994.716,248],[1994.735,189],[1994.755,166],[1994.771,131],[1994.787,131],[1994.813,131],[1994.842,77],[1994.962,154],[1994.988,108],[1995.007,248],[1995.027,108],[1995.046,213],[1995.069,201],[1995.079,154],[1995.101,77],[1995.124,178],[1995.137,1378],[1995.166,592],[1995.182,657],[1995.195,400],[1995.215,622],[1995.247,844],[1995.273,903],[1995.296,662],[1995.312,470],[1995.325,529],[1995.344,405],[1995.36,575],[1995.383,868],[1995.396,1125],[1995.409,938],[1995.419,868],[1995.441,786],[1995.461,692],[1995.474,692],[1995.493,592],[1995.513,451],[1995.571,349],[1995.597,353],[1995.62,306],[1995.642,365],[1995.668,295],[1995.694,248],[1995.717,353],[1995.733,213],[1995.752,236],[1995.765,194],[1995.785,709],[1995.814,522],[1995.83,405],[1995.862,365],[1995.895,264],[1995.911,213],[1995.927,194],[1995.947,166],[1995.966,213],[1995.992,295],[1996.018,552],[1996.041,412],[1996.057,225],[1996.073,405],[1996.096,419],[1996.122,260],[1996.141,255],[1996.16,341],[1996.186,400],[1996.203,381],[1996.219,568],[1996.245,552],[1996.258,482],[1996.277,622],[1996.29,779],[1996.316,400],[1996.348,37],[1996.381,377],[1996.407,365],[1996.439,377],[1996.462,358],[1996.484,365],[1996.517,470],[1996.536,622],[1996.556,575],[1996.575,470],[1996.601,358],[1996.624,358],[1996.646,330],[1996.672,358],[1996.692,295],[1996.711,540],[1996.731,334],[1996.743,564],[1996.763,494],[1996.782,458],[1996.802,388],[1996.821,400],[1996.841,377],[1996.86,405],[1996.883,353],[1996.905,341],[1996.925,482],[1996.951,482],[1996.97,306],[1996.996,271],[1997.012,318],[1997.038,809],[1997.054,517],[1997.074,349],[1997.093,365],[1997.113,564],[1997.132,412],[1997.152,540],[1997.165,575],[1997.184,482],[1997.21,37],[1997.229,482],[1997.249,400],[1997.268,575],[1997.288,568],[1997.307,400],[1997.327,482],[1997.346,400],[1997.365,334],[1997.378,470],[1997.398,447],[1997.417,278],[1997.437,482],[1997.456,447],[1997.476,592],[1997.501,482],[1997.547,400],[1997.566,306],[1997.589,311],[1997.611,248],[1997.628,522],[1997.644,826],[1997.663,248],[1997.692,201],[1997.715,288],[1997.735,201],[1997.754,278],[1997.773,302],[1997.799,311],[1997.822,213],[1997.838,295],[1997.854,381],[1997.877,575],[1997.903,341],[1997.929,306],[1997.952,494],[1997.968,435],[1997.987,522],[1998.0,482],[1998.02,295],[1998.039,166],[1998.059,138],[1998.071,178],[1998.091,482],[1998.114,1090],[1998.136,938],[1998.156,646],[1998.169,451],[1998.188,435],[1998.211,419],[1998.243,358],[1998.276,264],[1998.292,260],[1998.311,178],[1998.331,334],[1998.35,447],[1998.369,178],[1998.389,447],[1998.408,255],[1998.428,213],[1998.447,405],[1998.47,522],[1998.486,435],[1998.512,522],[1998.535,278],[1998.557,278],[1998.583,278],[1998.603,278],[1998.632,225],[1998.655,278],[1998.706,147],[1998.732,194],[1998.752,171],[1998.771,124],[1998.791,248],[1998.817,201],[1998.842,185],[1998.874,178],[1998.89,458],[1998.907,470],[1998.933,124]];

// ---- Layout of the three stacked panels ----
const W = 2101, H = 1114;
const xLeft = 169, xRight = 1973;
const RED = "#ff0000", BLUE = "#00b0f0";

const panels = [
  { name: "(Petrus Stroom)", yTitle: "Conc (ugN/L)", concMax: 3000, qMax: 50,
    din: petrusSimDIN, q: petrusSimQ, obs: petrusObsDIN, marker: "diamond",
    top: 21, bottom: 361, nameX: 974, nameY: 72, yTitleX: 39, qTitleX: 2068, qFont: 28, legend: true },
  { name: "(Lions River)", yTitle: "conc (ugN/L)", concMax: 2000, qMax: 30,
    din: lionsSimDIN, q: lionsSimQ, obs: lionsObsDIN, marker: "diamond",
    top: 411, bottom: 709, nameX: 959, nameY: 453, yTitleX: 47, qTitleX: 2075, qFont: 32, legend: false },
  { name: "(Karkloof River)", yTitle: "Conc (ugN/L)", concMax: 2000, qMax: 35,
    din: karkloofSimDIN, q: karkloofSimQ, obs: karkloofObsDIN, marker: "circle",
    top: 762, bottom: 1047, nameX: 915, nameY: 807, yTitleX: 39, qTitleX: 2072, qFont: 31, legend: false, yearLabels: true }
];

const svg = d3.select("#chart");
svg.append("rect").attr("width", W).attr("height", H).attr("fill", "#fff");

const x = d3.scaleLinear().domain([1989, 1999]).range([xLeft, xRight]);
const quarterTicks = d3.range(0, 40).map(k => 1989 + k * 0.25);

const diamondPath = (hw, hh) => `M0,${-hh}L${hw},0L0,${hh}L${-hw},0Z`;

function styleAxis(g, fontSize) {
  g.select(".domain").attr("stroke", "#000").attr("stroke-width", 3);
  g.selectAll(".tick line").attr("stroke", "#000").attr("stroke-width", 3);
  g.selectAll(".tick text").attr("font-size", fontSize).attr("fill", "#000")
    .attr("font-family", "Lato, 'Open Sans', sans-serif").attr("font-weight", 700);
}

panels.forEach(p => {
  const g = svg.append("g");
  const y = d3.scaleLinear().domain([0, p.concMax]).range([p.bottom, p.top]);
  const yq = d3.scaleLinear().domain([0, p.qMax]).range([p.bottom, p.top]);

  // top border of the plot area
  g.append("line").attr("x1", xLeft).attr("x2", xRight)
    .attr("y1", p.top).attr("y2", p.top)
    .attr("stroke", "#000").attr("stroke-width", 3);

  // left concentration axis
  const left = g.append("g").attr("transform", `translate(${xLeft},0)`)
    .call(d3.axisLeft(y).tickValues(d3.range(0, p.concMax + 1, 500))
      .tickSize(12).tickSizeOuter(0).tickPadding(22).tickFormat(d3.format("d")));
  styleAxis(left, 32);
  left.selectAll(".tick text").attr("dy", "0.36em");

  // right flow axis
  const right = g.append("g").attr("transform", `translate(${xRight},0)`)
    .call(d3.axisRight(yq).tickValues(d3.range(0, p.qMax + 1, 5))
      .tickSize(10).tickSizeOuter(0).tickPadding(24).tickFormat(d3.format("d")));
  styleAxis(right, p.qFont);
  right.selectAll(".tick text").attr("dy", "0.36em");

  // bottom time axis: quarterly ticks outward, yearly ticks crossing the axis
  const bottom = g.append("g").attr("transform", `translate(0,${p.bottom})`)
    .call(d3.axisBottom(x).tickValues(quarterTicks).tickSize(10).tickSizeOuter(0).tickFormat(""));
  styleAxis(bottom, 31);
  bottom.selectAll(".tick line")
    .attr("y1", d => (Math.abs(d - Math.round(d)) < 1e-6 ? -12 : 0))
    .attr("y2", d => (Math.abs(d - Math.round(d)) < 1e-6 ? 13 : 10));

  if (p.yearLabels) {
    g.selectAll("text.year").data(yearLabels).join("text")
      .attr("class", "year")
      .attr("x", d => x(d)).attr("y", p.bottom + 60)
      .attr("text-anchor", "middle").attr("font-size", 31)
      .text(d => d);
  }

  // series
  const dinLine = d3.line().x(d => x(d[0])).y(d => y(d[1]));
  const qLine = d3.line().x(d => x(d[0])).y(d => yq(d[1]));

  g.append("path").datum(p.din).attr("d", dinLine)
    .attr("fill", "none").attr("stroke", RED).attr("stroke-width", 2.7)
    .attr("stroke-linejoin", "round");
  g.append("path").datum(p.q).attr("d", qLine)
    .attr("fill", "none").attr("stroke", BLUE).attr("stroke-width", 2.7)
    .attr("stroke-linejoin", "round");

  const pts = g.append("g").selectAll("path.obs").data(p.obs).join("path")
    .attr("class", "obs")
    .attr("transform", d => `translate(${x(d[0])},${y(d[1])})`)
    .attr("fill", "#000");
  if (p.marker === "diamond") pts.attr("d", diamondPath(5, 6));
  else pts.attr("d", d3.symbol(d3.symbolCircle, 64)());

  // titles
  g.append("text")
    .attr("transform", `translate(${p.yTitleX},${(p.top + p.bottom) / 2}) rotate(-90)`)
    .attr("text-anchor", "middle").attr("dominant-baseline", "central")
    .attr("font-size", 31).text(p.yTitle);
  g.append("text")
    .attr("transform", `translate(${p.qTitleX},${(p.top + p.bottom) / 2}) rotate(-90)`)
    .attr("text-anchor", "middle").attr("dominant-baseline", "central")
    .attr("font-size", 33).text("Q(m3/s)");
  g.append("text")
    .attr("x", p.nameX).attr("y", p.nameY)
    .attr("text-anchor", "middle").attr("font-size", 37).text(p.name);

  if (p.legend) {
    const lg = g.append("g");
    const rows = [52, 94, 136];
    lg.append("line").attr("x1", 1780).attr("x2", 1845).attr("y1", rows[0]).attr("y2", rows[0])
      .attr("stroke", RED).attr("stroke-width", 2.7);
    lg.append("line").attr("x1", 1780).attr("x2", 1845).attr("y1", rows[1]).attr("y2", rows[1])
      .attr("stroke", BLUE).attr("stroke-width", 2.7);
    lg.append("path").attr("d", diamondPath(4, 5)).attr("fill", "#000")
      .attr("transform", `translate(1812,${rows[2]})`);
    lg.selectAll("text").data(legendLabels).join("text")
      .attr("x", 1853).attr("y", (d, i) => rows[i])
      .attr("dominant-baseline", "central").attr("font-size", 33)
      .text(d => d);
  }
});
</script>
</body>
</html>
